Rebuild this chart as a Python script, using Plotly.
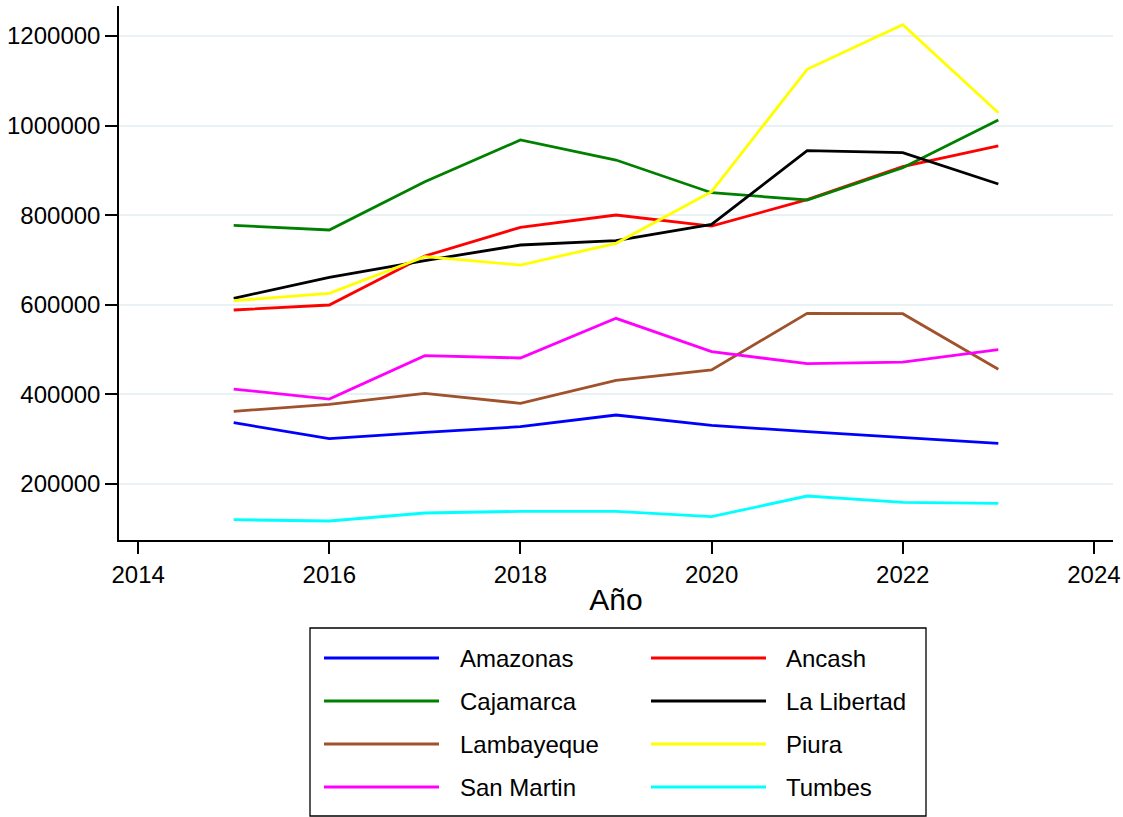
import plotly.graph_objects as go

years = [2015, 2016, 2017, 2018, 2019, 2020, 2021, 2022, 2023]

amazonas    = [336500, 300800, 315100, 327600, 353700, 330700, 316500, 303000, 290500]
ancash      = [588200, 599300, 708700, 772800, 800300, 775700, 834500, 908200, 954400]
cajamarca   = [777300, 766800, 874700, 967800, 923100, 850100, 833800, 905900, 1012400]
la_libertad = [614300, 661200, 698300, 733300, 742900, 779500, 943900, 939400, 869500]
lambayeque  = [361900, 377600, 402100, 379800, 431200, 454200, 580800, 579900, 455700]
piura       = [608900, 625400, 707200, 688600, 737100, 852300, 1125600, 1225200, 1028700]
san_martin  = [411700, 389400, 486100, 481000, 569600, 495100, 468300, 472000, 499500]
tumbes      = [119900, 117000, 134900, 138600, 138600, 126600, 172800, 158700, 156500]

names = ["Amazonas", "Ancash", "Cajamarca", "La Libertad",
         "Lambayeque", "Piura", "San Martin", "Tumbes"]
series = [amazonas, ancash, cajamarca, la_libertad,
          lambayeque, piura, san_martin, tumbes]
colors = ["#0000ff", "#ff0000", "#008000", "#000000",
          "#a0522d", "#ffff00", "#ff00ff", "#00ffff"]

x_ticks = [2014, 2016, 2018, 2020, 2022, 2024]
y_ticks = [200000, 400000, 600000, 800000, 1000000, 1200000]

FONT = "Liberation Sans, Arial, sans-serif"

fig = go.Figure()
for name, vals, col in zip(names, series, colors):
    fig.add_trace(go.Scatter(x=years, y=vals, mode="lines", name=name,
                             line=dict(color=col, width=2.8),
                             showlegend=False))

# plot area in pixels: left 119, right 1113, top 6, bottom 540
L, R, T, B = 119, 1113, 6, 540
W, H = R - L, B - T

def px(xp):
    return (xp - L) / W

def py(yp):
    return (B - yp) / H

shapes = []
annotations = []
# legend box
shapes.append(dict(type="rect", xref="paper", yref="paper",
                   x0=px(310), x1=px(926), y0=py(816), y1=py(628),
                   line=dict(color="black", width=1.3), fillcolor="white"))
row_y = [658, 701, 744, 787]
col_line = [(324, 439), (651, 766)]
col_text = [458, 784]
for i, (name, col) in enumerate(zip(names, colors)):
    r, c = divmod(i, 2)
    shapes.append(dict(type="line", xref="paper", yref="paper",
                       x0=px(col_line[c][0]), x1=px(col_line[c][1]),
                       y0=py(row_y[r]), y1=py(row_y[r]),
                       line=dict(color=col, width=3)))
    annotations.append(dict(xref="paper", yref="paper",
                            x=px(col_text[c]), y=py(row_y[r]),
                            text=name, showarrow=False,
                            xanchor="left", yanchor="middle",
                            font=dict(family=FONT, size=24, color="black")))

fig.update_layout(
    width=1123, height=817,
    margin=dict(l=L, r=1123 - R, t=T, b=817 - B, autoexpand=False),
    paper_bgcolor="white", plot_bgcolor="white",
    font=dict(family=FONT, size=24, color="black"),
    shapes=shapes, annotations=annotations,
    showlegend=False,
)
fig.update_xaxes(
    range=[2013.8, 2024.2], tickvals=x_ticks, ticktext=[str(v) for v in x_ticks],
    showgrid=False, zeroline=False, showline=True, linecolor="black", linewidth=1.5,
    ticks="outside", ticklen=12, tickwidth=1.5, tickcolor="black",
    tickfont=dict(family=FONT, size=24), automargin=False,
    title=dict(text="Año", font=dict(family=FONT, size=30), standoff=2),
)
fig.update_yaxes(
    range=[74600, 1267000], tickvals=y_ticks, ticktext=[str(v) for v in y_ticks],
    showgrid=True, gridcolor="#e8f1f3", gridwidth=2, zeroline=False,
    showline=True, linecolor="black", linewidth=1.5,
    ticks="outside", ticklen=12, tickwidth=1.5, tickcolor="black",
    tickfont=dict(family=FONT, size=24), automargin=False,
)

fig.write_html(
    "out.html",
    config={"displayModeBar": False},
    post_script="document.body.style.margin='0';document.body.style.overflow='hidden';",
)
